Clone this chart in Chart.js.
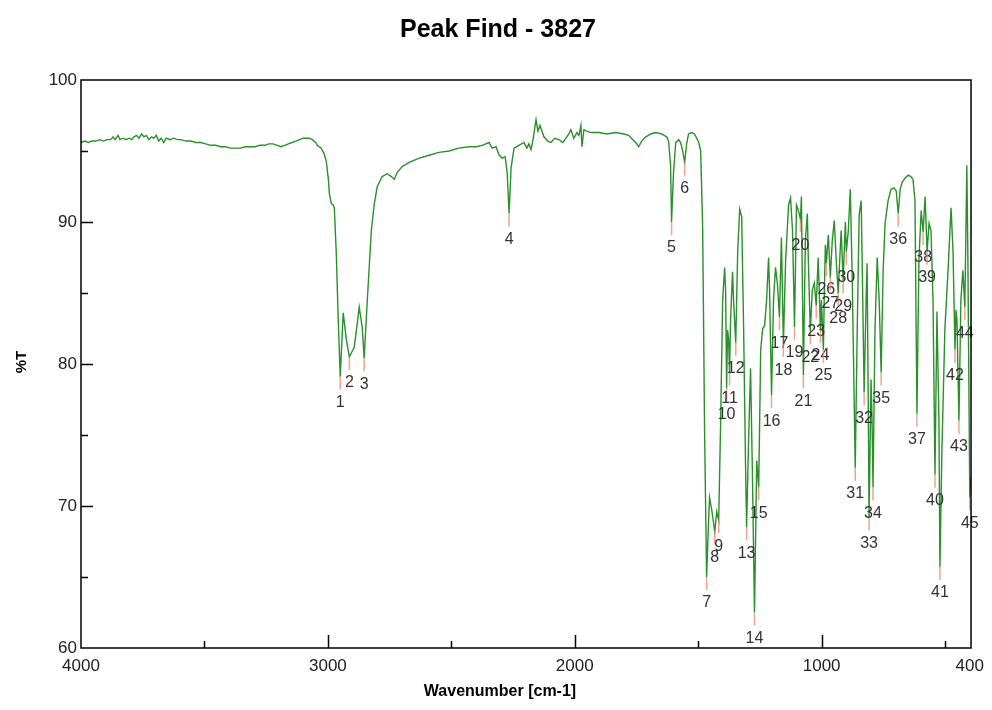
<!DOCTYPE html>
<html>
<head>
<meta charset="utf-8">
<title>Peak Find - 3827</title>
<script src="https://cdn.jsdelivr.net/npm/chart.js@4.4.1/dist/chart.umd.min.js"></script>
<style>
  html, body { margin: 0; padding: 0; background: #fff; }
  canvas { display: block; }
</style>
</head>
<body>
<canvas id="spectrum" width="992" height="710"></canvas>
<script>
// IR spectrum, wavenumber [cm-1] vs %T
const specWn = [
  4000, 3985, 3970, 3955, 3940, 3925, 3910, 3895, 3880, 3870, 3862, 3850, 3842, 3830, 3818, 3805,
  3795, 3785, 3775, 3765, 3755, 3745, 3735, 3725, 3715, 3705, 3695, 3685, 3675, 3665, 3655, 3640,
  3625, 3610, 3595, 3575, 3555, 3535, 3515, 3495, 3475, 3455, 3435, 3415, 3395, 3375, 3355, 3335,
  3315, 3295, 3275, 3255, 3240, 3222, 3205, 3190, 3175, 3160, 3145, 3130, 3115, 3100, 3087, 3075,
  3063, 3050, 3043, 3027, 3015, 3006, 2998, 2994, 2986, 2978, 2974, 2966, 2958, 2950, 2938, 2925,
  2913, 2893, 2873, 2861, 2853, 2841, 2824, 2812, 2800, 2780, 2760, 2743, 2731, 2719, 2699, 2671,
  2630, 2590, 2550, 2509, 2470, 2428, 2400, 2375, 2347, 2335, 2319, 2306, 2294, 2282, 2274, 2266,
  2258, 2246, 2226, 2206, 2194, 2186, 2177, 2169, 2157, 2149, 2141, 2125, 2109, 2097, 2081, 2064,
  2048, 2036, 2024, 2016, 2004, 1991, 1983, 1975, 1971, 1963, 1951, 1935, 1902, 1870, 1834, 1801,
  1781, 1765, 1753, 1741, 1729, 1712, 1692, 1672, 1648, 1628, 1620, 1612, 1608, 1600, 1591, 1579,
  1571, 1563, 1555, 1547, 1539, 1527, 1515, 1506, 1498, 1490, 1482, 1474, 1466, 1458, 1454, 1445,
  1433, 1425, 1417, 1409, 1401, 1393, 1389, 1385, 1381, 1377, 1373, 1369, 1361, 1357, 1348, 1340,
  1332, 1324, 1316, 1308, 1304, 1296, 1288, 1280, 1272, 1263, 1255, 1247, 1239, 1231, 1223, 1215,
  1211, 1203, 1195, 1187, 1179, 1171, 1163, 1155, 1146, 1134, 1126, 1118, 1110, 1102, 1094, 1086,
  1082, 1074, 1066, 1058, 1054, 1046, 1038, 1030, 1022, 1014, 1005, 1001, 993, 989, 985, 981,
  973, 965, 957, 949, 941, 933, 925, 921, 913, 904, 900, 892, 884, 876, 864, 856,
  848, 840, 836, 828, 820, 816, 812, 808, 800, 796, 792, 784, 775, 767, 759, 751,
  743, 731, 719, 707, 698, 690, 682, 674, 662, 650, 638, 630, 622, 614, 606, 597,
  589, 581, 573, 565, 557, 549, 541, 533, 525, 521, 513, 501, 488, 476, 468, 460,
  456, 452, 444, 436, 428, 420, 412, 408, 400, 396
];
const specT = [
  95.6, 95.7, 95.6, 95.7, 95.7, 95.8, 95.7, 95.8, 95.8, 96.0, 95.8, 96.1, 95.8, 95.9, 95.8, 95.9,
  95.8, 96.0, 96.1, 95.9, 96.2, 96.0, 96.1, 95.8, 96.0, 95.9, 96.1, 95.7, 95.9, 95.6, 95.9, 95.8,
  95.9, 95.8, 95.8, 95.7, 95.7, 95.6, 95.6, 95.5, 95.4, 95.4, 95.3, 95.3, 95.2, 95.2, 95.2, 95.3,
  95.3, 95.3, 95.4, 95.4, 95.5, 95.5, 95.4, 95.3, 95.4, 95.5, 95.6, 95.7, 95.8, 95.9, 95.9, 95.9,
  95.8, 95.6, 95.4, 95.2, 94.8, 94.2, 93.0, 92.0, 91.3, 91.2, 91.0, 87.8, 83.1, 79.1, 83.6, 81.7,
  80.5, 81.2, 84.0, 82.6, 80.4, 84.3, 89.4, 91.3, 92.5, 93.2, 93.4, 93.2, 93.0, 93.5, 93.9, 94.2,
  94.5, 94.7, 94.9, 95.0, 95.2, 95.3, 95.3, 95.4, 95.6, 95.2, 95.3, 94.7, 94.5, 94.6, 93.5, 90.6,
  93.8, 95.2, 95.4, 95.6, 95.2, 95.5, 95.1, 95.8, 97.2, 96.4, 96.8, 96.0, 95.7, 95.6, 95.9, 95.8,
  95.6, 95.9, 96.2, 96.5, 95.9, 96.3, 96.1, 96.8, 95.3, 96.5, 96.4, 96.3, 96.3, 96.2, 96.3, 96.2,
  96.1, 95.8, 95.6, 95.3, 95.7, 96.0, 96.2, 96.3, 96.2, 96.0, 95.7, 94.0, 90.0, 93.5, 95.6, 95.8,
  95.6, 95.0, 94.2, 95.5, 96.2, 96.3, 96.2, 95.9, 95.6, 95.0, 89.6, 75.0, 65.0, 69.0, 70.6, 69.7,
  68.2, 69.6, 69.0, 76.1, 84.5, 86.8, 85.2, 78.3, 82.4, 81.7, 79.4, 83.1, 86.5, 84.5, 81.5, 88.0,
  90.9, 90.4, 82.4, 72.5, 68.5, 74.6, 79.7, 71.8, 62.5, 73.2, 71.3, 81.0, 82.5, 82.7, 84.5, 87.5,
  85.2, 77.8, 84.5, 86.8, 85.6, 83.3, 88.9, 81.4, 87.3, 91.2, 91.7, 89.4, 82.6, 91.2, 90.8, 90.2,
  91.8, 79.2, 88.7, 90.6, 87.3, 82.3, 85.2, 85.7, 84.1, 87.5, 82.4, 84.5, 81.0, 85.2, 88.4, 87.1,
  89.1, 86.1, 88.7, 90.1, 87.3, 85.0, 88.0, 89.4, 85.9, 90.0, 87.9, 89.4, 92.3, 85.9, 72.7, 82.4,
  90.5, 91.5, 87.3, 78.0, 84.5, 87.1, 78.9, 69.2, 78.9, 76.1, 71.3, 82.4, 87.5, 84.5, 79.4, 86.6,
  89.9, 91.5, 92.3, 92.4, 92.2, 90.6, 92.3, 92.8, 93.1, 93.3, 93.2, 93.0, 91.5, 76.5, 87.3, 90.8,
  89.3, 91.8, 87.9, 89.9, 89.4, 84.5, 72.2, 83.7, 76.1, 65.7, 73.9, 82.4, 86.6, 91.0, 88.0, 81.0,
  83.8, 83.1, 76.0, 84.5, 86.6, 84.0, 94.0, 88.0, 70.6, 72.0
];

// picked peaks, numbered 1..45 in order
const peakWn = [
  2950, 2913, 2853, 2266, 1608, 1555, 1466, 1433, 1417, 1385, 1373, 1348, 1304, 1272, 1255,
  1203, 1171, 1155, 1110, 1086, 1074, 1046, 1022, 1005, 993, 981, 965, 933, 913, 900,
  864, 828, 808, 792, 759, 690, 614, 589, 573, 541, 521, 460, 444, 420, 400
];
const peakT = [
  79.1, 80.5, 80.4, 90.6, 90.0, 94.2, 65.0, 68.2, 69.0, 78.3, 79.4, 81.5, 68.5, 62.5, 71.3,
  77.8, 83.3, 81.4, 82.6, 90.2, 79.2, 82.3, 84.1, 82.4, 81.0, 87.1, 86.1, 85.0, 85.9, 87.9,
  72.7, 78.0, 69.2, 71.3, 79.4, 90.6, 76.5, 89.3, 87.9, 72.2, 65.7, 81.0, 76.0, 84.0, 70.6
];

const xTickLabels = [4000, 3000, 2000, 1000, 400];
const xTickMajor = [3000, 2000, 1000];
const xTickMinor = [3500, 2500, 1500, 500];
const yTickLabels = [60, 70, 80, 90, 100];
const yTickMajor = [70, 80, 90];
const yTickMinor = [65, 75, 85, 95];

const FONT = "'Liberation Sans', Arial, Helvetica, sans-serif";

const points = specWn.map((w, i) => ({ x: w, y: specT[i] }));

const frame = {
  id: "frame",
  afterDatasetsDraw(chart) {
    const { ctx, scales: { x, y } } = chart;
    ctx.save();
    // peak markers + numbers
    ctx.font = "16px " + FONT;
    ctx.textAlign = "center";
    ctx.textBaseline = "middle";
    peakWn.forEach((w, i) => {
      const px = x.getPixelForValue(w);
      const py = y.getPixelForValue(peakT[i]);
      ctx.strokeStyle = "rgba(238, 130, 110, 0.75)";
      ctx.lineWidth = 1.5;
      ctx.beginPath();
      ctx.moveTo(px, py);
      ctx.lineTo(px, py + 13);
      ctx.stroke();
      ctx.fillStyle = "#333";
      ctx.fillText(String(i + 1), px, py + 26);
    });
    ctx.restore();
  },
  afterDraw(chart) {
    const { ctx, chartArea: a, scales: { x, y } } = chart;
    ctx.save();
    ctx.strokeStyle = "#000";
    ctx.lineWidth = 1.5;
    ctx.strokeRect(a.left, a.top, a.right - a.left, a.bottom - a.top);

    // inward tick marks
    ctx.beginPath();
    xTickMajor.forEach(v => {
      const px = Math.round(x.getPixelForValue(v)) + 0.5;
      ctx.moveTo(px, a.bottom); ctx.lineTo(px, a.bottom - 13);
    });
    xTickMinor.forEach(v => {
      const px = Math.round(x.getPixelForValue(v)) + 0.5;
      ctx.moveTo(px, a.bottom); ctx.lineTo(px, a.bottom - 7);
    });
    yTickMajor.forEach(v => {
      const py = Math.round(y.getPixelForValue(v)) + 0.5;
      ctx.moveTo(a.left, py); ctx.lineTo(a.left + 12, py);
    });
    yTickMinor.forEach(v => {
      const py = Math.round(y.getPixelForValue(v)) + 0.5;
      ctx.moveTo(a.left, py); ctx.lineTo(a.left + 7, py);
    });
    ctx.stroke();

    // titles
    ctx.fillStyle = "#000";
    ctx.textAlign = "center";
    ctx.textBaseline = "middle";
    ctx.font = "bold 25px " + FONT;
    ctx.fillText("Peak Find - 3827", 498, 30);
    ctx.font = "bold 16px " + FONT;
    ctx.fillText("Wavenumber [cm-1]", 500, 692);
    ctx.translate(22, 362);
    ctx.rotate(-Math.PI / 2);
    ctx.font = "bold 15px " + FONT;
    ctx.fillText("%T", 0, 0);
    ctx.restore();
  }
};

new Chart(document.getElementById("spectrum"), {
  type: "scatter",
  data: {
    datasets: [{
      data: points,
      showLine: true,
      borderColor: "#2b8f2b",
      borderWidth: 1.4,
      pointRadius: 0,
      tension: 0
    }]
  },
  options: {
    responsive: false,
    animation: false,
    layout: { padding: { top: 80, right: 19, left: 0, bottom: 0 } },
    scales: {
      x: {
        type: "linear",
        reverse: true,
        min: 395,
        max: 4000,
        afterFit: s => { s.height = 62; },
        afterBuildTicks: s => { s.ticks = xTickLabels.map(v => ({ value: v })); },
        grid: { display: false, drawTicks: false, tickLength: 0 },
        border: { display: false },
        ticks: {
          padding: 8,
          color: "#222",
          font: { family: FONT, size: 17 },
          maxRotation: 0,
          autoSkip: false,
          callback: v => String(v)
        }
      },
      y: {
        min: 60,
        max: 100,
        afterFit: s => { s.width = 81; },
        afterBuildTicks: s => { s.ticks = yTickLabels.map(v => ({ value: v })); },
        grid: { display: false, drawTicks: false, tickLength: 0 },
        border: { display: false },
        ticks: {
          padding: 4,
          color: "#222",
          font: { family: FONT, size: 17 },
          callback: v => String(v)
        }
      }
    },
    plugins: {
      legend: { display: false },
      tooltip: { enabled: false },
      title: { display: false }
    }
  },
  plugins: [frame]
});
</script>
</body>
</html>
